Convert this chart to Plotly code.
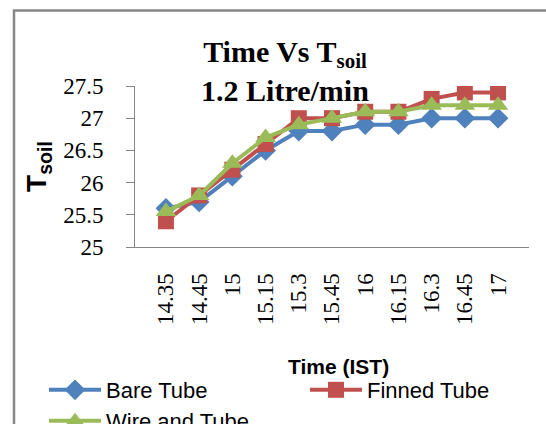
import plotly.graph_objects as go

times = ["14.35", "14.45", "15", "15.15", "15.3", "15.45", "16", "16.15", "16.3", "16.45", "17"]
bare_tube = [25.6, 25.7, 26.1, 26.5, 26.8, 26.8, 26.9, 26.9, 27.0, 27.0, 27.0]
finned_tube = [25.4, 25.8, 26.2, 26.6, 27.0, 27.0, 27.1, 27.1, 27.3, 27.4, 27.4]
wire_and_tube = [25.55, 25.8, 26.3, 26.7, 26.9, 27.0, 27.1, 27.1, 27.2, 27.2, 27.2]
y_ticks = [25, 25.5, 26, 26.5, 27, 27.5]
y_tick_text = ["25", "25.5", "26", "26.5", "27", "27.5"]

W, H = 546, 424
L, R, T, B = 135, 17, 86, 177
pw, ph = W - L - R, H - T - B

def px(x):
    return (x - L) / pw

def py(y):
    return (H - B - y) / ph

fig = go.Figure()
fig.add_trace(go.Scatter(x=times, y=bare_tube, name="Bare Tube", mode="lines+markers",
                         line=dict(color="#4F81BD", width=4), legend="legend",
                         marker=dict(symbol="diamond", size=16, color="#4F81BD")))
fig.add_trace(go.Scatter(x=times, y=finned_tube, name="Finned Tube", mode="lines+markers",
                         line=dict(color="#C0504D", width=4), legend="legend2",
                         marker=dict(symbol="square", size=16, color="#C0504D")))
fig.add_trace(go.Scatter(x=times, y=wire_and_tube, name="Wire and Tube", mode="lines+markers",
                         line=dict(color="#9BBB59", width=4), legend="legend3",
                         marker=dict(symbol="triangle-up", size=18, color="#9BBB59")))

fig.add_shape(type="rect", xref="paper", yref="paper",
              x0=px(14), x1=px(570), y0=py(460), y1=py(10.5),
              line=dict(color="#878787", width=2.5), fillcolor="rgba(0,0,0,0)", layer="below")

fig.add_annotation(text="<b>Time (IST)</b>", xref="paper", yref="paper",
                   x=px(338), y=py(366), xanchor="center", yanchor="middle",
                   showarrow=False,
                   font=dict(family="Liberation Sans", size=21, color="black"))

def leg(x, ytop):
    return dict(orientation="h", xref="container", yref="container",
                x=x / W, y=1 - ytop / H, xanchor="left", yanchor="top",
                itemwidth=52,
                font=dict(family="Liberation Sans", size=22, color="black"),
                bgcolor="rgba(0,0,0,0)")

fig.update_layout(
    width=W, height=H,
    margin=dict(l=L, r=R, t=T, b=B, autoexpand=False),
    paper_bgcolor="white", plot_bgcolor="white",
    title=dict(text="<b>Time Vs T<sub>soil</sub></b><br><b>1.2 Litre/min</b>",
               font=dict(family="Liberation Serif", size=30, color="black"),
               x=0.522, xref="container", xanchor="center",
               y=1 - 62 / H, yref="container", yanchor="top"),
    xaxis=dict(type="category", tickangle=-90, showgrid=False, showline=True,
               linecolor="#868686", linewidth=1, ticks="", ticklabelstandoff=16,
               automargin=False,
               tickfont=dict(family="Liberation Serif", size=23, color="black")),
    yaxis=dict(range=[25, 27.5], tickvals=y_ticks, ticktext=y_tick_text, showgrid=False,
               showline=True, linecolor="#868686", linewidth=1, ticks="outside",
               ticklen=8, tickcolor="#868686", ticklabelstandoff=18,
               automargin=False,
               tickfont=dict(family="Liberation Serif", size=23, color="black"),
               zeroline=False,
               title=dict(text="<b>T<sub>soil</sub></b>", standoff=8,
                          font=dict(family="Liberation Sans", size=28, color="black"))),
    legend=leg(44, 369),
    legend2=leg(305, 369),
    legend3=leg(44, 400),
    showlegend=True,
)

fig.write_html("out.html")
